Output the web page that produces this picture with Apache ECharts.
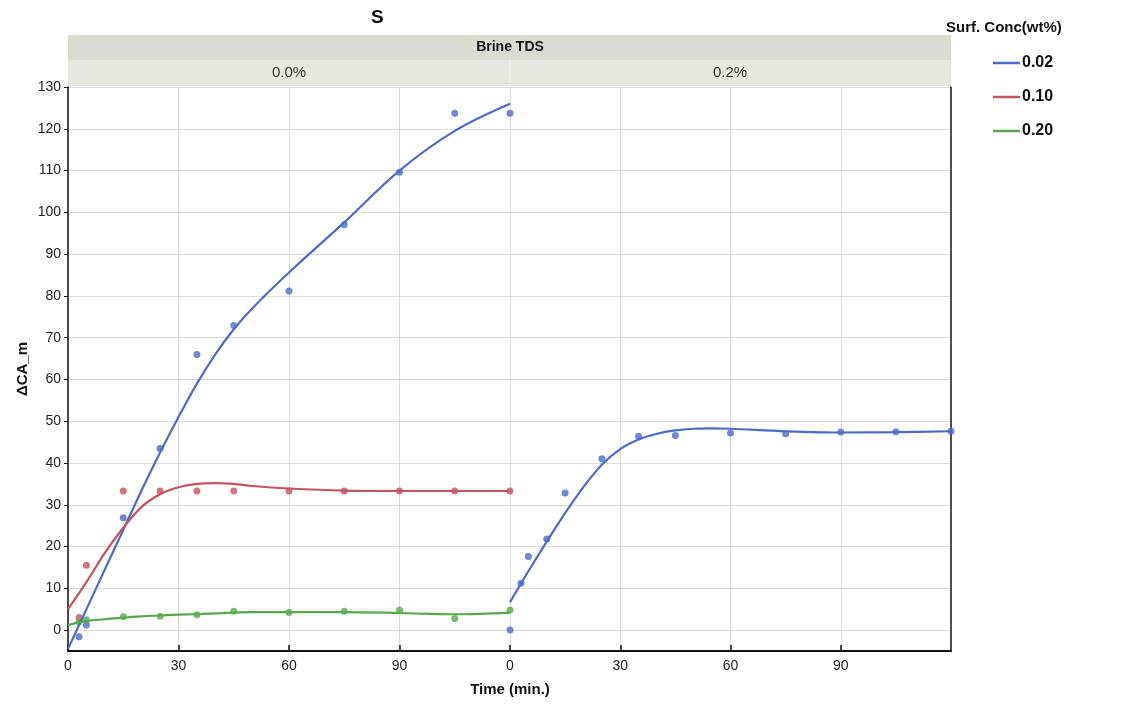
<!DOCTYPE html>
<html>
<head>
<meta charset="utf-8">
<script src="https://cdn.jsdelivr.net/npm/echarts@6/dist/echarts.min.js"></script>
<style>
html, body { margin: 0; background: #fff; }
#main { width: 1125px; height: 704px; }
</style>
</head>
<body>
<div id="main"></div>
<script>
// measured points, Brine TDS 0.0%
var tLeft = [3, 5, 15, 25, 35, 45, 60, 75, 90, 105, 120];
var blueLeft = [-1.6, 1.2, 26.9, 43.5, 66, 72.9, 81.2, 97, 109.6, 123.7, 123.7];
var redLeft = [3, 15.5, 33.3, 33.3, 33.3, 33.3, 33.3, 33.3, 33.3, 33.3, 33.3];
var greenLeft = [2, 2.5, 3.2, 3.3, 3.7, 4.5, 4.2, 4.5, 4.8, 2.8, 4.8];
// measured points, Brine TDS 0.2%
var tRight = [0, 3, 5, 10, 15, 25, 35, 45, 60, 75, 90, 105, 120];
var blueRight = [0, 11.2, 17.6, 21.8, 32.8, 41, 46.4, 46.6, 47.2, 47, 47.4, 47.5, 47.6];

// fitted curves
var tFitL = [0, 5, 10, 15, 20, 25, 30, 35, 40, 45, 50, 60, 75, 90, 105, 120];
var blueFitL = [-4.5, 5, 14.5, 24, 33.5, 42.5, 51, 59, 66, 72, 77, 85.6, 97.6, 110, 119.5, 126];
var redFitL = [5, 11.5, 18.5, 24.5, 29.5, 32.5, 34.2, 35, 35.2, 35, 34.5, 33.9, 33.4, 33.3, 33.3, 33.3];
var greenFitL = [1.2, 2.2, 2.6, 3, 3.3, 3.5, 3.7, 3.8, 4, 4.2, 4.3, 4.3, 4.3, 4.1, 3.8, 4.2];
var tFitR = [0, 5, 10, 15, 20, 25, 30, 35, 40, 45, 50, 55, 60, 75, 90, 105, 120];
var blueFitR = [6.7, 14.1, 21.2, 28, 34.3, 39.6, 43.3, 45.6, 47, 47.8, 48.2, 48.3, 48.2, 47.6, 47.3, 47.4, 47.6];

var xTicks = [0, 30, 60, 90];
var yTicks = [0, 10, 20, 30, 40, 50, 60, 70, 80, 90, 100, 110, 120, 130];
var names = ['0.02', '0.10', '0.20'];
var colors = ['#4a6cc6', '#c4535c', '#5aa84c'];

function pairs(t, v) {
  return t.map(function (x, i) { return [x, v[i]]; });
}

var font = 'Liberation Sans, Arial, Helvetica, sans-serif';

function xAx(idx) {
  return {
    gridIndex: idx, type: 'value', min: 0, max: 120, interval: 30,
    axisLine: { show: true, onZero: false, lineStyle: { color: '#111', width: 2 } },
    axisTick: { show: true, inside: true, length: 6, customValues: xTicks, lineStyle: { color: '#111', width: 1.5 } },
    axisLabel: { color: '#222', fontSize: 14, fontFamily: font, margin: 8, customValues: xTicks },
    splitLine: { show: true, lineStyle: { color: '#dcdcdc', width: 1 } }
  };
}

function yAx(idx) {
  var left = idx === 0;
  return {
    gridIndex: idx, type: 'value', min: -5, max: 130,
    position: left ? 'left' : 'right',
    name: left ? 'ΔCA_m' : '',
    nameLocation: 'middle', nameGap: 38,
    nameTextStyle: { fontWeight: 'bold', fontSize: 15, color: '#111', fontFamily: font },
    axisLine: { show: true, onZero: false, lineStyle: { color: '#111', width: 1.5 } },
    axisTick: { show: left, length: 4, customValues: yTicks, lineStyle: { color: '#111' } },
    axisLabel: { show: left, color: '#222', fontSize: 14, fontFamily: font, margin: 7, customValues: yTicks },
    splitLine: { show: true, lineStyle: { color: '#dcdcdc', width: 1 } }
  };
}

function scatter(name, ci, idx, data) {
  return {
    name: name, type: 'scatter', xAxisIndex: idx, yAxisIndex: idx,
    data: data, symbolSize: 7, itemStyle: { color: colors[ci] }, z: 3
  };
}

function curve(name, ci, idx, data) {
  return {
    name: name, type: 'line', xAxisIndex: idx, yAxisIndex: idx,
    data: data, smooth: 0.35, showSymbol: false,
    lineStyle: { color: colors[ci], width: 2.2 }, itemStyle: { color: colors[ci] }, z: 4
  };
}

var chart = echarts.init(document.getElementById('main'));
chart.setOption({
  animation: false,
  textStyle: { fontFamily: font },
  grid: [
    { left: 68, top: 87, width: 442, height: 564 },
    { left: 510, top: 87, width: 441, height: 564 }
  ],
  xAxis: [xAx(0), xAx(1)],
  yAxis: [yAx(0), yAx(1)],
  legend: {
    data: names, orient: 'vertical', left: 988, top: 50,
    icon: 'rect', itemWidth: 27, itemHeight: 2.5, itemGap: 18,
    textStyle: { fontWeight: 'bold', fontSize: 16, color: '#111', fontFamily: font, padding: [0, 0, 0, -3] }
  },
  graphic: [
    { type: 'text', left: 371, top: 8, style: { text: 'S', font: 'bold 19px ' + font, fill: '#111' } },
    { type: 'rect', shape: { x: 68, y: 35, width: 883, height: 25 }, style: { fill: '#dcdbd1' } },
    { type: 'rect', shape: { x: 68, y: 60, width: 883, height: 26 }, style: { fill: '#e8e7df' } },
    { type: 'line', shape: { x1: 510, y1: 60, x2: 510, y2: 86 }, style: { stroke: '#f4f4ef', lineWidth: 1 } },
    { type: 'text', x: 510, y: 47, style: { text: 'Brine TDS', font: 'bold 14px ' + font, fill: '#111', align: 'center', verticalAlign: 'middle' } },
    { type: 'text', x: 289, y: 73, style: { text: '0.0%', font: '15px ' + font, fill: '#333', align: 'center', verticalAlign: 'middle' } },
    { type: 'text', x: 730, y: 73, style: { text: '0.2%', font: '15px ' + font, fill: '#333', align: 'center', verticalAlign: 'middle' } },
    { type: 'text', x: 510, y: 690, style: { text: 'Time (min.)', font: 'bold 15px ' + font, fill: '#111', align: 'center', verticalAlign: 'middle' } },
    { type: 'text', x: 946, y: 28, style: { text: 'Surf. Conc(wt%)', font: 'bold 15px ' + font, fill: '#111', align: 'left', verticalAlign: 'middle' } }
  ],
  series: [
    curve(names[0], 0, 0, pairs(tFitL, blueFitL)),
    curve(names[1], 1, 0, pairs(tFitL, redFitL)),
    curve(names[2], 2, 0, pairs(tFitL, greenFitL)),
    curve(names[0], 0, 1, pairs(tFitR, blueFitR)),
    scatter(names[0], 0, 0, pairs(tLeft, blueLeft)),
    scatter(names[1], 1, 0, pairs(tLeft, redLeft)),
    scatter(names[2], 2, 0, pairs(tLeft, greenLeft)),
    scatter(names[0], 0, 1, pairs(tRight, blueRight))
  ]
});
</script>
</body>
</html>
